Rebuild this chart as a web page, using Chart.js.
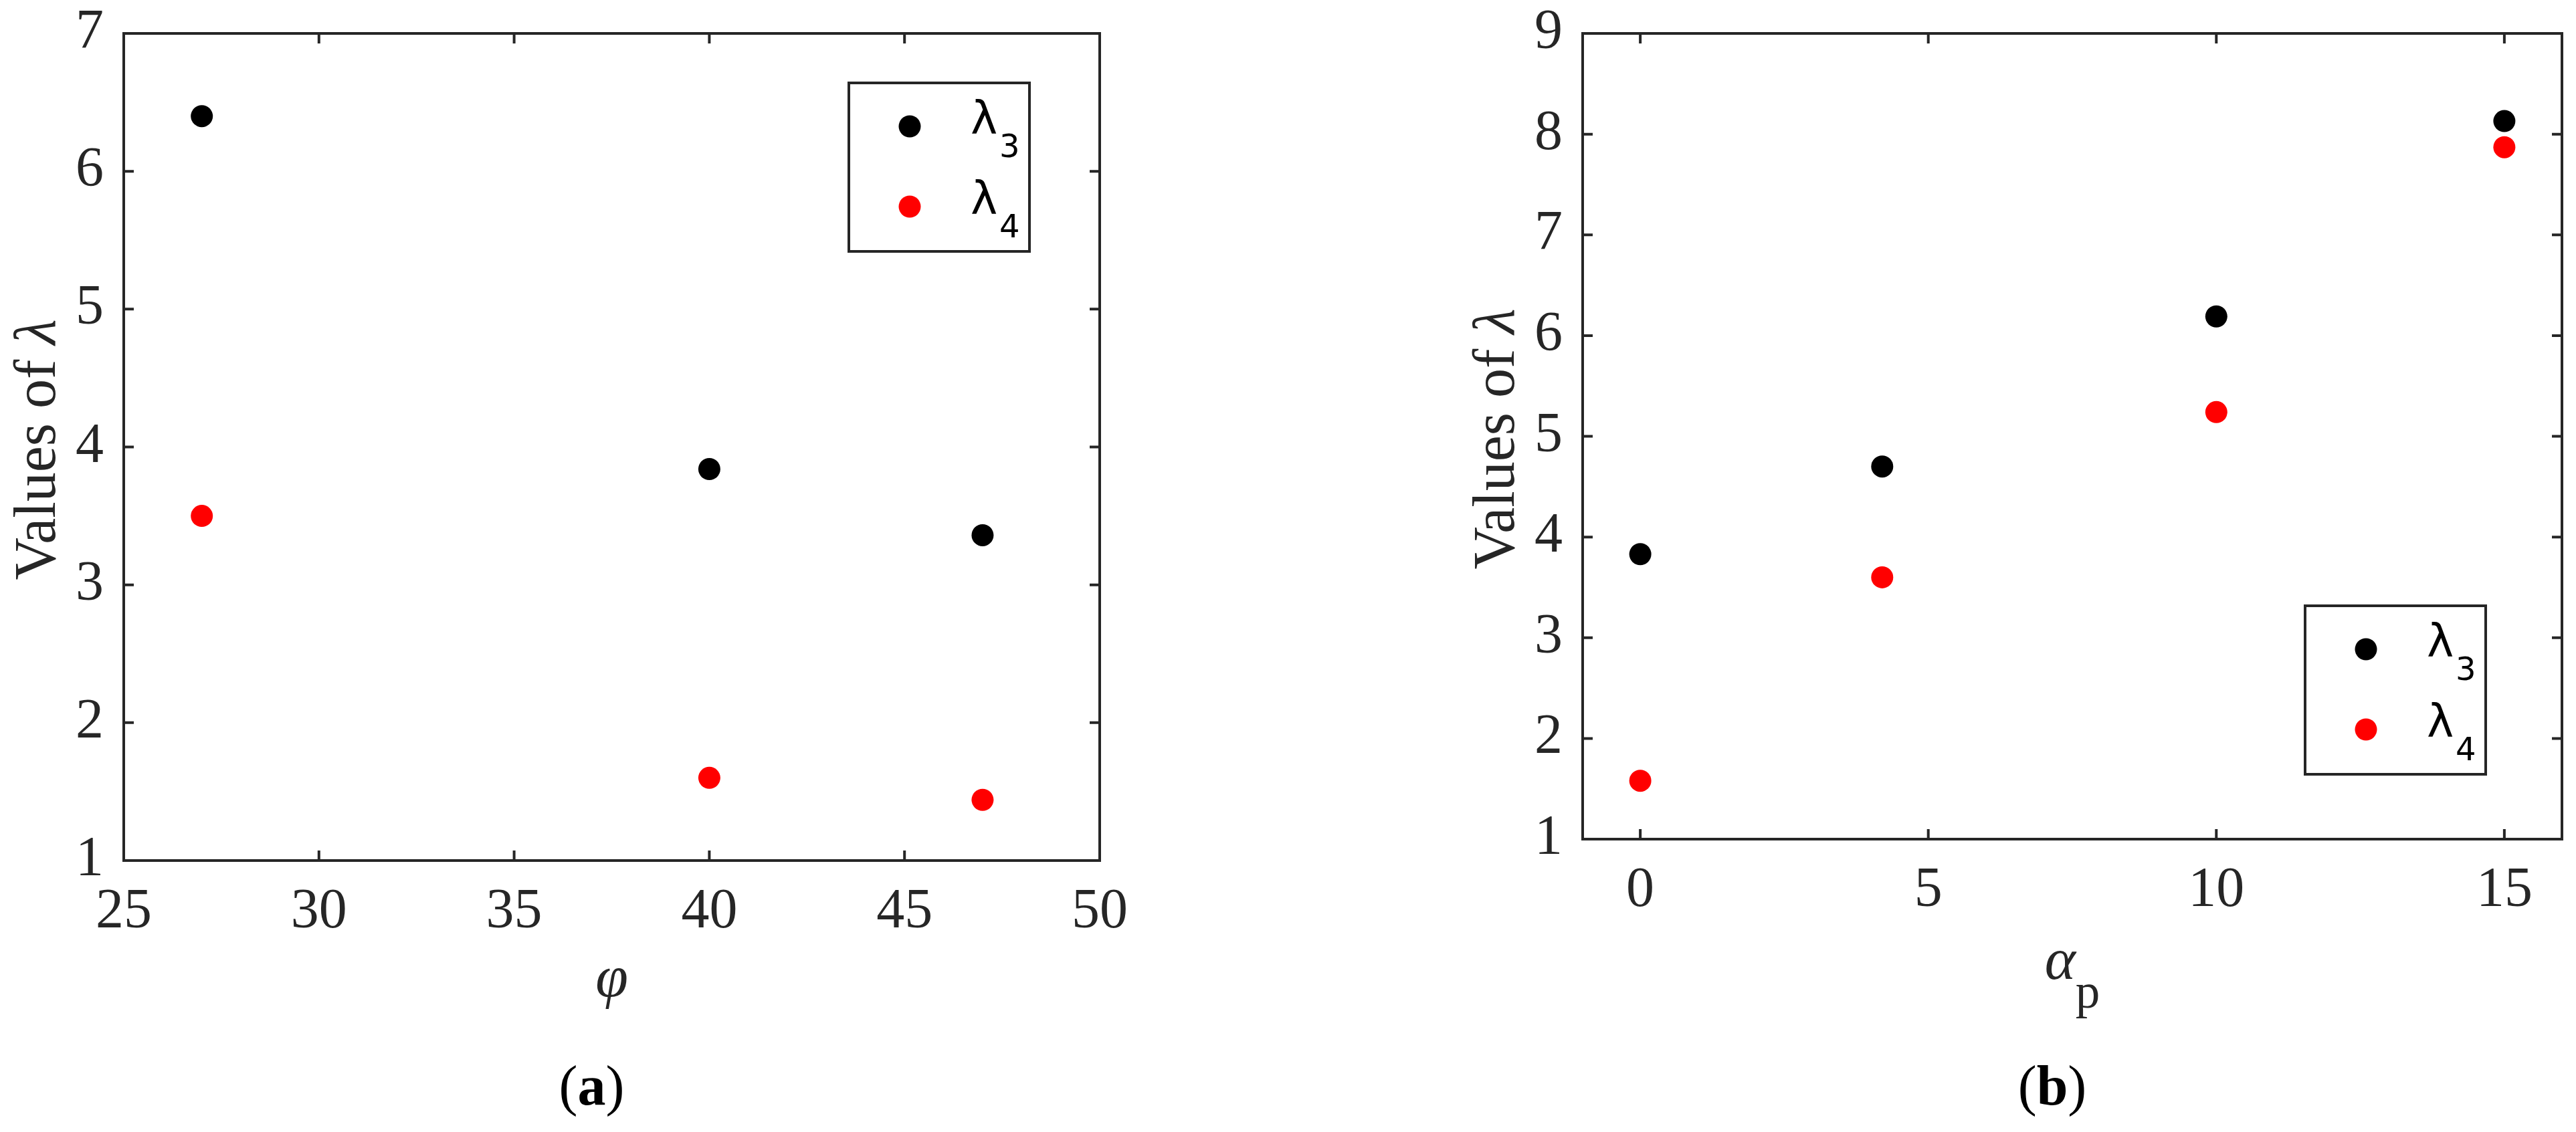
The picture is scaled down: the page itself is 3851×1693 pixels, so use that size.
<!DOCTYPE html>
<html>
<head>
<meta charset="utf-8">
<script src="https://cdn.jsdelivr.net/npm/chart.js@4.4.1/dist/chart.umd.min.js"></script>
<style>
  html, body { margin: 0; padding: 0; background: #fff; }
  #wrap { position: relative; width: 3851px; height: 1693px; }
  canvas { position: absolute; top: 0; }
  #chartA { left: 0; }
  #chartB { left: 1925px; }
</style>
</head>
<body>
<div id="wrap">
  <canvas id="chartA" width="1925" height="1693"></canvas>
  <canvas id="chartB" width="1926" height="1693"></canvas>
</div>
<script>
// (a) values of lambda against phi
const phiValues = [27, 40, 47];
const lambda3A = [6.40, 3.84, 3.36];
const lambda4A = [3.50, 1.60, 1.44];
const phiTicks = [25, 30, 35, 40, 45, 50];
const lambdaTicksA = [1, 2, 3, 4, 5, 6, 7];

// (b) values of lambda against alpha_p
const alphaValues = [0, 4.2, 10, 15];
const lambda3B = [3.83, 4.70, 6.19, 8.13];
const lambda4B = [1.58, 3.60, 5.24, 7.87];
const alphaTicks = [0, 5, 10, 15];
const lambdaTicksB = [1, 2, 3, 4, 5, 6, 7, 8, 9];

const seriesNames = ['λ3', 'λ4'];
const seriesColors = ['#000000', '#ff0000'];

const INK = '#262626';
const SERIF = '"Liberation Serif", "Times New Roman", serif';
const SANS = '"DejaVu Sans", sans-serif';

function drawRuns(ctx, runs, cx, baseline) {
  const widths = runs.map(r => { ctx.font = r.font; return ctx.measureText(r.text).width; });
  let x = cx - widths.reduce((s, w) => s + w, 0) / 2;
  runs.forEach((r, i) => {
    ctx.font = r.font;
    ctx.fillText(r.text, x, baseline + (r.dy || 0));
    x += widths[i];
  });
}

// box, inward ticks on all sides, legend and titles, matlab style
const matlabBox = {
  id: 'matlabBox',
  afterDraw(chart, args, opts) {
    const ctx = chart.ctx;
    const a = chart.chartArea;
    const xs = chart.scales.x, ys = chart.scales.y;
    ctx.save();
    ctx.strokeStyle = INK;
    ctx.lineWidth = 4;
    ctx.beginPath();
    xs.ticks.forEach(t => {
      const px = xs.getPixelForValue(t.value);
      ctx.moveTo(px, a.bottom); ctx.lineTo(px, a.bottom - 15);
      ctx.moveTo(px, a.top); ctx.lineTo(px, a.top + 15);
    });
    ys.ticks.forEach(t => {
      const py = ys.getPixelForValue(t.value);
      ctx.moveTo(a.left, py); ctx.lineTo(a.left + 15, py);
      ctx.moveTo(a.right, py); ctx.lineTo(a.right - 15, py);
    });
    ctx.stroke();
    ctx.strokeRect(a.left, a.top, a.right - a.left, a.bottom - a.top);

    // legend
    const lg = opts.legend;
    const w = 270, h = 252;
    const left = a.right - lg.right - w;
    const top = lg.top != null ? a.top + lg.top : a.bottom - lg.bottom - h;
    ctx.fillStyle = '#fff';
    ctx.fillRect(left, top, w, h);
    ctx.strokeRect(left, top, w, h);
    ctx.textAlign = 'left';
    ctx.textBaseline = 'alphabetic';
    chart.data.datasets.forEach((ds, i) => {
      const cy = top + 65 + i * 120;
      ctx.fillStyle = ds.backgroundColor;
      ctx.beginPath();
      ctx.arc(left + 91, cy, 16.5, 0, Math.PI * 2);
      ctx.fill();
      ctx.fillStyle = '#000';
      ctx.font = '68px ' + SANS;
      ctx.fillText(ds.label[0], left + 182, cy + 11);
      ctx.font = '48px ' + SANS;
      ctx.fillText(ds.label.slice(1), left + 225, cy + 46);
    });

    ctx.fillStyle = INK;
    // y title
    ctx.save();
    ctx.translate(a.left - 103, (a.top + a.bottom) / 2 + 4);
    ctx.rotate(-Math.PI / 2);
    drawRuns(ctx, [
      { text: 'Values of ', font: '88px ' + SERIF },
      { text: 'λ', font: 'italic 88px ' + SERIF }
    ], 0, 0);
    ctx.restore();

    // x title and caption
    const cx = (a.left + a.right) / 2;
    drawRuns(ctx, opts.xTitle, cx, opts.xTitleBaseline);
    ctx.fillStyle = '#000';
    drawRuns(ctx, [
      { text: '(', font: '84px ' + SERIF },
      { text: opts.caption, font: 'bold 84px ' + SERIF },
      { text: ')', font: '84px ' + SERIF }
    ], cx - 30, 1652);
    ctx.restore();
  }
};

function lambdaChart(canvasId, xValues, l3, l4, xTicks, yTicks, box, deco) {
  const tickFont = { family: SERIF, size: 84, lineHeight: 1 };
  return new Chart(document.getElementById(canvasId), {
    type: 'scatter',
    data: {
      datasets: [
        { label: seriesNames[0], data: xValues.map((x, i) => ({ x: x, y: l3[i] })), backgroundColor: seriesColors[0] },
        { label: seriesNames[1], data: xValues.map((x, i) => ({ x: x, y: l4[i] })), backgroundColor: seriesColors[1] }
      ]
    },
    options: {
      responsive: false,
      animation: false,
      devicePixelRatio: 1,
      layout: { padding: { left: 0, top: box.top, right: box.right, bottom: 0 } },
      elements: { point: { radius: 16.5, hoverRadius: 16.5, borderWidth: 0 } },
      plugins: {
        legend: { display: false },
        tooltip: { enabled: false },
        matlabBox: deco
      },
      scales: {
        x: {
          type: 'linear',
          min: box.xMin,
          max: box.xMax,
          afterBuildTicks: s => { s.ticks = xTicks.map(v => ({ value: v })); },
          afterFit: s => { s.height = box.xAxisHeight; s.paddingLeft = 0; s.paddingRight = 0; },
          grid: { display: false, drawTicks: false },
          border: { display: false },
          ticks: { font: tickFont, color: INK, padding: 36, maxRotation: 0, autoSkip: false }
        },
        y: {
          type: 'linear',
          min: yTicks[0],
          max: yTicks[yTicks.length - 1],
          afterBuildTicks: s => { s.ticks = yTicks.map(v => ({ value: v })); },
          afterFit: s => { s.width = box.yAxisWidth; s.paddingTop = 0; s.paddingBottom = 0; },
          grid: { display: false, drawTicks: false },
          border: { display: false },
          ticks: { font: tickFont, color: INK, padding: 30, autoSkip: false }
        }
      }
    },
    plugins: [matlabBox]
  });
}

lambdaChart('chartA', phiValues, lambda3A, lambda4A, phiTicks, lambdaTicksA,
  { xMin: 25, xMax: 50, top: 50, right: 281, xAxisHeight: 406, yAxisWidth: 185 },
  {
    legend: { right: 105, top: 74 },
    xTitle: [{ text: 'φ', font: 'italic 88px ' + SERIF }],
    xTitleBaseline: 1490,
    caption: 'a'
  });

lambdaChart('chartB', alphaValues, lambda3B, lambda4B, alphaTicks, lambdaTicksB,
  { xMin: -1, xMax: 16, top: 50, right: 21, xAxisHeight: 438, yAxisWidth: 441 },
  {
    legend: { right: 114, bottom: 97 },
    xTitle: [
      { text: 'α', font: 'italic 88px ' + SERIF },
      { text: 'p', font: '73px ' + SERIF, dy: 43 }
    ],
    xTitleBaseline: 1464,
    caption: 'b'
  });
</script>
</body>
</html>
